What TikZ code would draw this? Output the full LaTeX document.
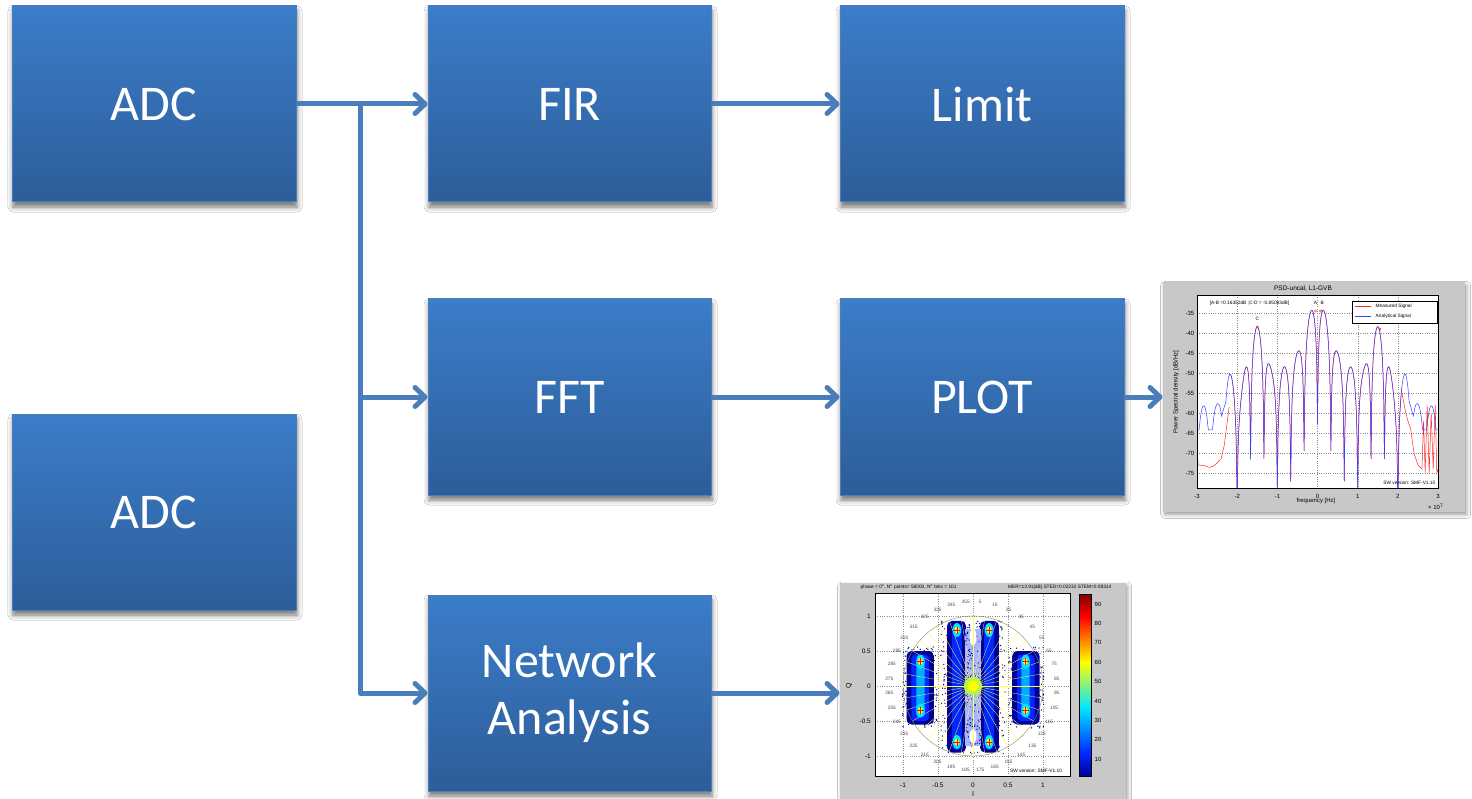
\documentclass[tikz,border=0pt]{standalone}
\usepackage{fontspec}
\setmainfont{Carlito}
\newfontfamily\plotfont{Liberation Sans}
\usetikzlibrary{arrows.meta,positioning,shadows.blur}
\definecolor{boxtop}{RGB}{59,125,201}
\definecolor{boxbot}{RGB}{45,93,153}
\definecolor{arrclr}{RGB}{74,126,187}
\definecolor{plotgray}{RGB}{200,200,200}
\definecolor{gridclr}{RGB}{140,140,140}
\definecolor{meas}{RGB}{255,40,40}
\definecolor{anal}{RGB}{60,60,255}
\definecolor{jdb}{RGB}{0,0,150}
\definecolor{jb}{RGB}{0,40,255}
\definecolor{jc}{RGB}{0,230,255}
\definecolor{jy}{RGB}{255,255,0}
\definecolor{jr}{RGB}{255,0,0}
\definecolor{jdr}{RGB}{128,0,0}
\pgfdeclareverticalshading{jetbar}{100bp}{color(0bp)=(jdb); color(25bp)=(jdb);
  color(31.25bp)=(jb); color(43.75bp)=(jc); color(56.25bp)=(jy);
  color(68.75bp)=(jr); color(75bp)=(jdr); color(100bp)=(jdr)}
\tikzset{
  %% processing block
  blk/.style={rectangle,draw=arrclr,line width=1pt,top color=boxtop,bottom color=boxbot,
    minimum width=284pt,minimum height=196pt,text=white,align=center,
    font=\fontsize{50}{57}\selectfont,
    blur shadow={shadow xshift=1pt,shadow yshift=-5pt,shadow blur radius=5pt,shadow opacity=55}},
  %% screenshot frame
  imgbox/.style={rectangle,fill=plotgray,inner sep=0pt,
    blur shadow={shadow xshift=2pt,shadow yshift=-3pt,shadow blur radius=4pt,shadow opacity=40}},
  %% arrows
  arr/.style={line width=5pt,arrclr,line join=round,-{Straight Barb[length=10pt,width=19pt,round]}},
  %% plot details
  gridln/.style={gridclr,dotted,line width=0.3pt},
  ticklbl/.style={font=\plotfont\fontsize{6}{7}\selectfont,inner sep=0.5pt},
  smlbl/.style={font=\plotfont\fontsize{4.8}{5}\selectfont,inner sep=0.5pt},
  declare function={
    gs(\u,\w)=exp(-min(\u*\u/(\w*\w),20));
    penv(\f)=500*gs(\f,0.25)+141*gs(\f-1.5,0.19)+141*gs(\f+1.5,0.19)+30*gs(\f,0.9)+8*gs(abs(\f)-2.2,0.15)+1.5;
    osc(\f)=max(sin(540*\f)*sin(540*\f),ifthenelse(abs(\f)>2.2,0.25,0.001));
    psdb(\f)=10*log10(penv(\f)*osc(\f))-60;
  },
}
\begin{document}
\begin{tikzpicture}[x=1pt,y=-1pt]
  \useasboundingbox[fill=white] (0,0) rectangle (1472,799);

  \node[blk] (adcA) at (154,104) {ADC};
  \node[blk,below=211pt of adcA] (adcB) {ADC};
  \node[blk,right=131pt of adcA,minimum width=283pt] (fir) {FIR};
  \node[blk,right=128pt of fir] (lim) {Limit};
  \node[blk,below=96pt of fir,minimum width=283pt] (fft) {FFT};
  \node[blk,below=96pt of lim] (plt) {PLOT};
  \node[blk,below=99pt of fft,minimum width=283pt] (net) {Network\\Analysis};
  \node[imgbox,minimum width=302pt,minimum height=229pt,right=38pt of plt] (psd) {};
  \node[imgbox,minimum width=286pt,minimum height=220pt,right=128pt of net] (cst) {};

  \coordinate (split) at (360,104);
  \draw[arr] (adcA.east) -- (fir.west);
  \draw[arr] (split) |- (fft.west);
  \draw[arr] (split) |- (net.west);
  \draw[arr] (fir) -- (lim);
  \draw[arr] (fft) -- (plt);
  \draw[arr] (plt) -- (psd);
  \draw[arr] (net) -- (cst);

  %% PSD screenshot
  \node[ticklbl,font=\plotfont\fontsize{6.5}{7}\selectfont] at (1303,289) {PSD-uncal, L1-GVB};
  \begin{scope}[shift={(1317.5,173)},x=40.17pt,y=4pt]
    \fill[white] (-3,-30.5) rectangle (3,-78.75);
    \foreach \f in {-2,...,2} \draw[gridln] (\f,-30.5) -- (\f,-78.75);
    \foreach \d in {-35,-40,...,-75} \draw[gridln] (-3,\d) -- (3,\d);
    \begin{scope}
      \clip (-3,-30.5) rectangle (3,-78.75);
      \draw[meas,line width=0.5pt] plot[domain=-2.2:2.1,samples=259] (\x,{psdb(\x)});
      \draw[meas,line width=0.5pt] plot coordinates {(-3,-69) (-2.97,-73) (-2.8,-73.2) (-2.7,-73.6)
        (-2.6,-73.3) (-2.5,-72.5) (-2.4,-71.5) (-2.32,-68) (-2.27,-64) (-2.22,-60) (-2.2,-58.5)};
      \draw[meas,line width=0.5pt] plot coordinates {(2.1,-55) (2.2,-60) (2.25,-62) (2.32,-64)
        (2.4,-70) (2.5,-73) (2.6,-74) (2.64,-62) (2.68,-75) (2.73,-58) (2.78,-75) (2.83,-60)
        (2.88,-74) (2.93,-58) (2.97,-75) (3,-74)};
      \draw[anal,line width=0.5pt] plot[domain=-3:3,samples=361] (\x,{psdb(\x)});
    \end{scope}
    \draw[line width=0.4pt] (-3,-30.5) rectangle (3,-78.75);
    \foreach \f in {-3,...,3} \node[ticklbl] at (\f,-80.75) {\f};
    \foreach \d in {-35,-40,...,-75} \node[ticklbl,anchor=east] at (-3.05,\d) {\d};
    \foreach \p in {(-0.05,-34.5),(0.08,-34.5),(-1.5,-38.5),(1.55,-39)} \draw[meas,line width=0.4pt] \p circle (1.2pt);
    \node[smlbl] at (-0.05,-32.5) {A};
    \node[smlbl] at (0.12,-32.5) {B};
    \node[smlbl] at (-1.5,-36.5) {C};
    \node[smlbl] at (1.55,-37.5) {D};
    \node[smlbl,anchor=west] at (-2.7,-32.5) {[A-B =0.16352dB ;C-D = -0.85083dB]};
  \end{scope}
  \draw[fill=white,line width=0.3pt] (1352,301) rectangle (1437,323);
  \draw[meas,line width=0.5pt] (1355,306) -- (1371,306);
  \node[smlbl,anchor=west] at (1375,306) {Measured Signal};
  \draw[anal,line width=0.5pt] (1355,316.5) -- (1371,316.5);
  \node[smlbl,anchor=west] at (1375,316.5) {Analytical Signal};
  \node[smlbl,anchor=east] at (1436,483) {SW version: SMF-V1.10};
  \node[ticklbl,rotate=90] at (1176,392) {Power Spectral density [dB/Hz]};
  \node[ticklbl] at (1316,501) {frequency [Hz]};
  \node[ticklbl,anchor=east] at (1444,507) {\texttimes\ 10\textsuperscript{7}};

  %% constellation screenshot
  \node[smlbl,anchor=west] at (860,587) {phase = 0\textsuperscript{o}, N\textsuperscript{o} points= 58000, N\textsuperscript{o} bins = 101};
  \node[smlbl,anchor=east] at (1112,587) {MER=13.91[dB] STED=0.02232 STEM=0.08314};
  \begin{scope}[shift={(973,686)},x=70pt,y=70pt]
    \fill[white] (-1.4,-1.286) rectangle (1.386,1.329);
    \foreach \v in {-1,-0.5,0,0.5,1} {
      \draw[gridln] (\v,-1.286) -- (\v,1.329);
      \draw[gridln] (-1.4,\v) -- (1.386,\v);
    }
    \pgfmathsetseed{42}
    \foreach \k in {1,...,420} \fill[jdb] ({0.46*rand},{-0.02+0.95*rand}) circle (0.7pt);
    \foreach \k in {1,...,160} {
      \fill[jdb] ({-0.76+0.25*rand},{-0.02+0.58*rand}) circle (0.7pt);
      \fill[jdb] ({0.76+0.25*rand},{-0.02+0.58*rand}) circle (0.7pt);
    }
    \foreach \s in {-1,1} {
      \fill[jdb,rounded corners=5pt] ({\s*0.95},-0.55) rectangle ({\s*0.56},0.5);
      \fill[jb,rounded corners=4pt] ({\s*0.88},-0.5) rectangle ({\s*0.63},0.45);
      \fill[jc!70!jb,rounded corners=3pt] ({\s*0.81},-0.44) rectangle ({\s*0.69},0.41);
      \fill[jdb,rounded corners=5pt] ({\s*0.37},-0.95) rectangle ({\s*0.1},0.93);
      \fill[jb,rounded corners=4pt] ({\s*0.3},-0.91) rectangle ({\s*0.16},0.89);
    }
    \fill[jb!35!white] (-0.11,-0.85) rectangle (0.11,0.82);
    \foreach \k in {1,...,140} \fill[jdb] ({0.11*rand},{-0.02+0.82*rand}) circle (0.7pt);
    \fill[white] (0,0.7) ellipse (0.05 and 0.12);
    \fill[white] (0,-0.72) ellipse (0.05 and 0.1);
    \foreach \a in {0,10,...,350} \draw[jy!70!white,line width=0.3pt] (0,0) -- (\a:1);
    \draw[gray!60!olive,line width=0.4pt] (0,0) circle (1);
    \fill[jy!70!jc] (0,0) circle (0.13);
    \fill[jy] (0,0) circle (0.08);
    \foreach \p in {(-0.75,0.35),(-0.75,-0.35),(0.75,0.35),(0.75,-0.35),(-0.23,0.8),(0.23,0.8),(-0.23,-0.8),(0.23,-0.8)} {
      \fill[jc] \p ellipse (0.06 and 0.1);
      \fill[jy] \p ellipse (0.035 and 0.05);
      \draw[jr,line width=0.8pt] \p ++(-0.05,0) -- ++(0.1,0) \p ++(0,-0.05) -- ++(0,0.1);
    }
    \draw[line width=0.4pt] (-1.4,-1.286) rectangle (1.386,1.329);
    \foreach \a in {5,15,...,355} \node[smlbl,text=black!70] at ({1.2*sin(\a)},{1.2*cos(\a)}) {\a};
    \foreach \v in {-1,-0.5,0,0.5,1} {
      \node[ticklbl,font=\plotfont\fontsize{6.5}{7}\selectfont] at (\v,-1.414) {\v};
      \node[ticklbl,font=\plotfont\fontsize{6.5}{7}\selectfont,anchor=east] at (-1.45,\v) {\v};
    }
    \node[smlbl] at (0.9,-1.21) {SW version: SMF-V1.10};
  \end{scope}
  \node[ticklbl,font=\plotfont\fontsize{7}{8}\selectfont,rotate=90] at (849,686) {Q};
  \node[ticklbl,font=\plotfont\fontsize{7}{8}\selectfont] at (973,794) {I};
  \shade[shading=jetbar] (1079,594) rectangle (1091,776);
  \draw[line width=0.3pt] (1079,594) rectangle (1091,776);
  \foreach \v in {10,20,...,90} \node[ticklbl,font=\plotfont\fontsize{6}{7}\selectfont,anchor=west] at (1094,{604+(90-\v)*1.94}) {\v};
\end{tikzpicture}
\end{document}
